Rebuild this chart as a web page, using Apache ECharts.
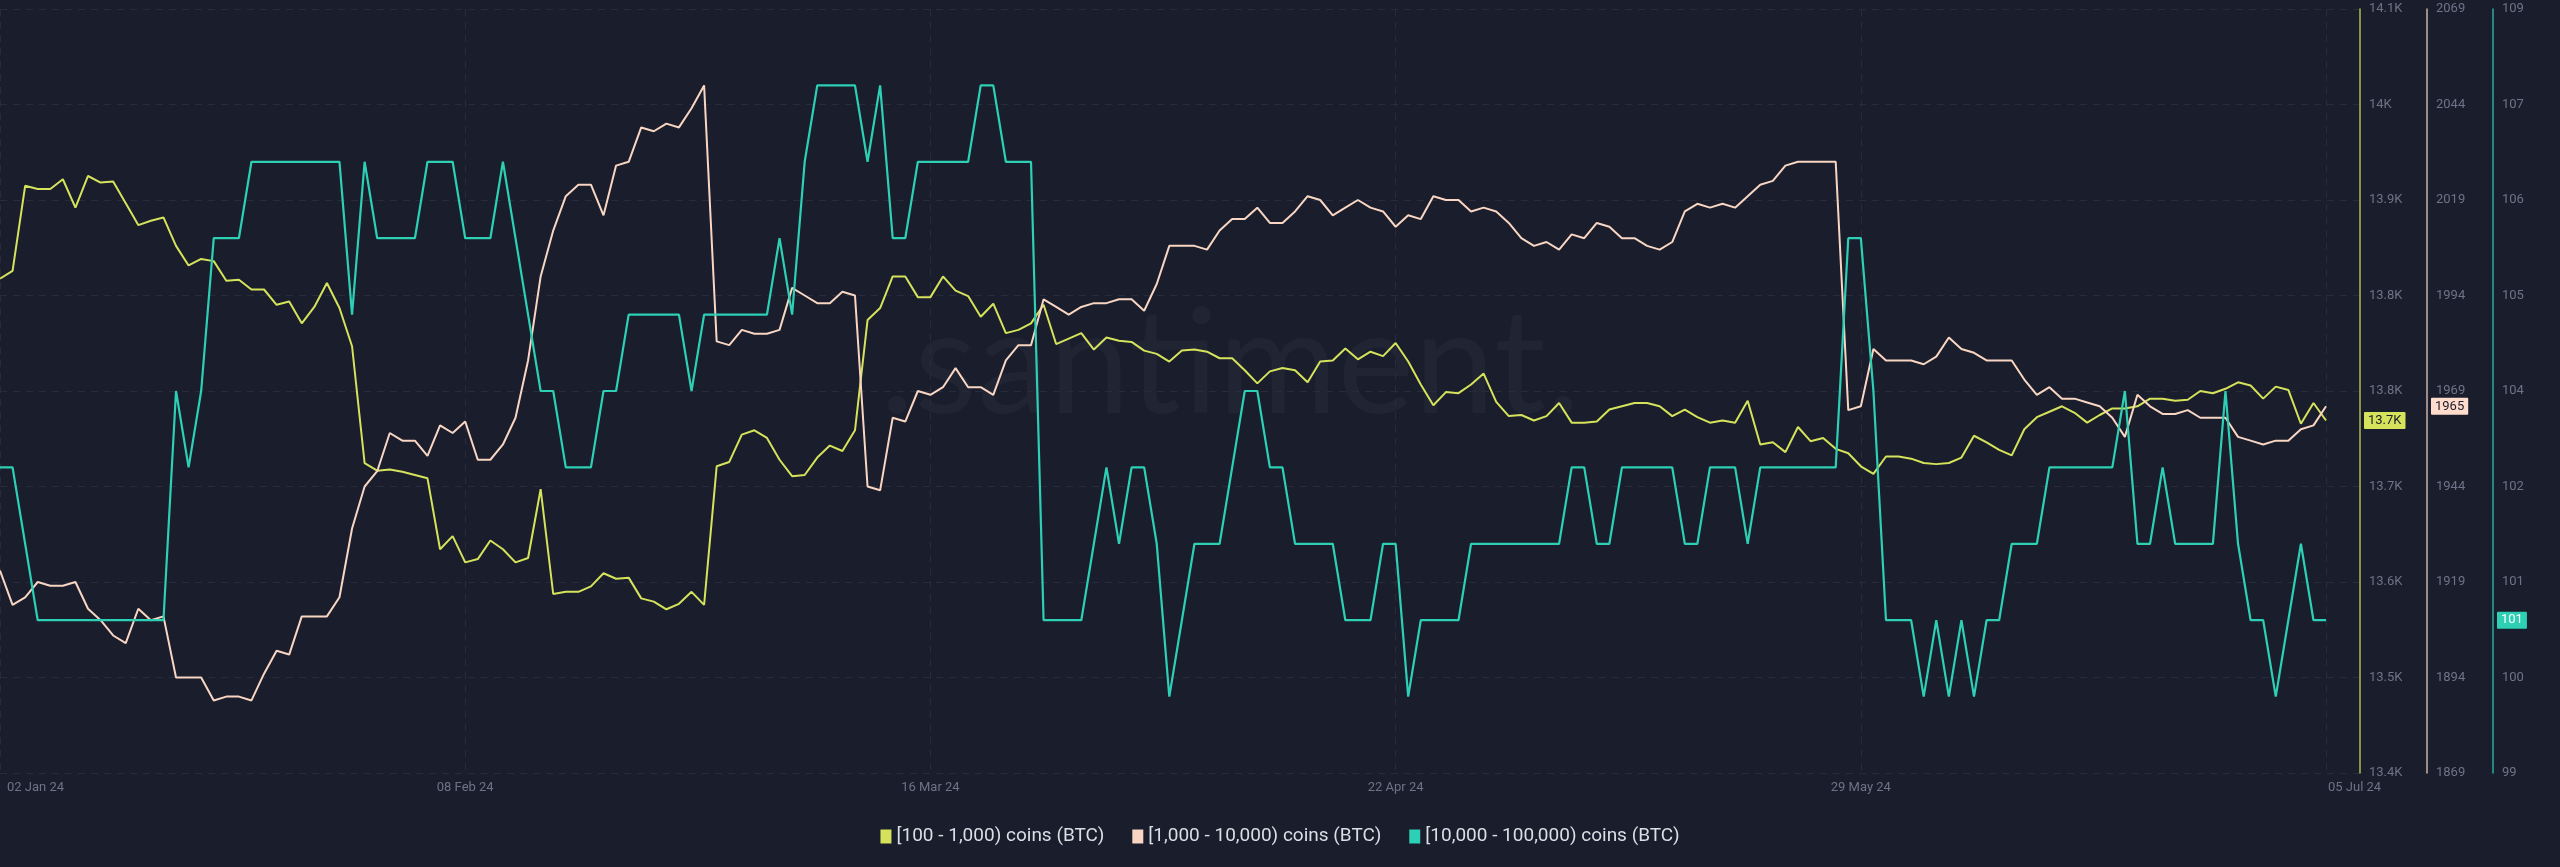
<!DOCTYPE html>
<html>
<head>
<meta charset="utf-8">
<script src="https://cdn.jsdelivr.net/npm/echarts@6/dist/echarts.min.js"></script>
<style>
  html, body { margin: 0; padding: 0; background: #1a1d2b; }
  #chart { width: 2560px; height: 867px; }
</style>
</head>
<body>
<div id="chart"></div>
<script>
// ---- data (daily, 02 Jan 24 .. 05 Jul 24) ----
const startDate = Date.UTC(2024, 0, 2);
const seriesNames = ['[100 - 1,000) coins (BTC)', '[1,000 - 10,000) coins (BTC)', '[10,000 - 100,000) coins (BTC)'];

const yellow = [
  13853,13860,13938,13935,13935,13944,13918,13947,13941,13942,
  13922,13902,13906,13909,13883,13865,13871,13869,13851,13852,
  13843,13843,13829,13832,13812,13827,13849,13826,13791,13684,
  13677,13678,13676,13673,13670,13605,13617,13593,13596,13613,
  13605,13593,13597,13660,13564,13566,13566,13571,13583,13578,
  13579,13560,13557,13550,13555,13566,13554,13681,13685,13710,
  13714,13707,13687,13672,13673,13689,13700,13695,13714,13815,
  13826,13855,13855,13836,13836,13855,13842,13837,13818,13830,
  13803,13806,13812,13829,13793,13798,13803,13788,13799,13796,
  13795,13787,13784,13777,13787,13788,13786,13780,13780,13769,
  13757,13768,13771,13769,13758,13777,13778,13789,13779,13786,
  13782,13794,13777,13756,13737,13749,13748,13756,13766,13740,
  13727,13728,13723,13727,13739,13721,13721,13722,13733,13736,
  13739,13739,13736,13727,13733,13726,13721,13723,13721,13741,
  13701,13703,13694,13717,13704,13707,13697,13693,13681,13674,
  13690,13690,13688,13684,13683,13684,13689,13709,13703,13696,
  13691,13715,13726,13731,13736,13730,13721,13728,13734,13734,
  13736,13743,13743,13741,13742,13750,13748,13752,13758,13755,
  13743,13754,13751,13720,13739,13723
];

const peach = [
  1922,1913,1915,1919,1918,1918,1919,1912,1909,1905,
  1903,1912,1909,1910,1894,1894,1894,1888,1889,1889,
  1888,1895,1901,1900,1910,1910,1910,1915,1933,1944,
  1948,1958,1956,1956,1952,1960,1958,1961,1951,1951,
  1955,1962,1977,1999,2011,2020,2023,2023,2015,2028,
  2029,2038,2037,2039,2038,2043,2049,1982,1981,1985,
  1984,1984,1985,1996,1994,1992,1992,1995,1994,1944,
  1943,1962,1961,1969,1968,1970,1975,1970,1970,1968,
  1977,1981,1981,1993,1991,1989,1991,1992,1992,1993,
  1993,1990,1997,2007,2007,2007,2006,2011,2014,2014,
  2017,2013,2013,2016,2020,2019,2015,2017,2019,2017,
  2016,2012,2015,2014,2020,2019,2019,2016,2017,2016,
  2013,2009,2007,2008,2006,2010,2009,2013,2012,2009,
  2009,2007,2006,2008,2016,2018,2017,2018,2017,2020,
  2023,2024,2028,2029,2029,2029,2029,1964,1965,1980,
  1977,1977,1977,1976,1978,1983,1980,1979,1977,1977,
  1977,1972,1968,1970,1967,1967,1966,1965,1962,1957,
  1968,1965,1963,1963,1964,1962,1962,1962,1957,1956,
  1955,1956,1956,1959,1960,1965
];

const teal = [
  103,103,102,101,101,101,101,101,101,101,
  101,101,101,101,104,103,104,106,106,106,
  107,107,107,107,107,107,107,107,105,107,
  106,106,106,106,107,107,107,106,106,106,
  107,106,105,104,104,103,103,103,104,104,
  105,105,105,105,105,104,105,105,105,105,
  105,105,106,105,107,108,108,108,108,107,
  108,106,106,107,107,107,107,107,108,108,
  107,107,107,101,101,101,101,102,103,102,
  103,103,102,100,101,102,102,102,103,104,
  104,103,103,102,102,102,102,101,101,101,
  102,102,100,101,101,101,101,102,102,102,
  102,102,102,102,102,103,103,102,102,103,
  103,103,103,103,102,102,103,103,103,102,
  103,103,103,103,103,103,103,106,106,104,
  101,101,101,100,101,100,101,100,101,101,
  102,102,102,103,103,103,103,103,103,104,
  102,102,103,102,102,102,102,104,102,101,
  101,100,101,102,101,101
];

// x tick positions (day index) and axis ranges
const xTickIdx = [0, 37, 74, 111, 148, 185];
const yellowRange = [13400, 14100];
const peachRange = [1869, 2069];
const tealRange = [99, 109];

// ---- derived ----
const MONTHS = ['Jan','Feb','Mar','Apr','May','Jun','Jul','Aug','Sep','Oct','Nov','Dec'];
const categories = yellow.map((_, i) => {
  const d = new Date(startDate + i * 86400000);
  return String(d.getUTCDate()).padStart(2, '0') + ' ' + MONTHS[d.getUTCMonth()] + ' ' + String(d.getUTCFullYear()).slice(2);
});
function ticks(r) { const out = []; for (let k = 0; k <= 8; k++) out.push(r[0] + k * (r[1] - r[0]) / 8); return out; }
const fmtK = v => { const t = Math.round(v / 100) / 10; return (Number.isInteger(t) ? String(t) : t.toFixed(1)) + 'K'; };

const COL_Y = '#d4e35b', COL_P = '#f8d6c3', COL_T = '#2dd0b4';
const LABEL_COL = '#6e7387';
const FONT = 'Roboto, "Noto Sans", sans-serif';

const chart = echarts.init(document.getElementById('chart'), null, { renderer: 'canvas' });

function yAxisDef(range, color, offset, fmt, lastVal, pointerBg, pointerText, showSplit) {
  return {
    type: 'value', position: 'right', offset: offset,
    min: range[0], max: range[1],
    axisLine: { show: true, onZero: false, lineStyle: { color: color, width: 1.5, opacity: 0.8 } },
    axisTick: { show: false, customValues: ticks(range) },
    axisLabel: { customValues: ticks(range), formatter: fmt, color: LABEL_COL, fontSize: 13, fontFamily: FONT, margin: 9 },
    splitLine: { show: showSplit, lineStyle: { color: '#272b3c', type: [7, 6], width: 1 } },
    axisPointer: {
      show: true, type: 'line', value: lastVal, status: 'show', snap: false, triggerTooltip: false,
      lineStyle: { color: 'rgba(0,0,0,0)', width: 0 },
      label: {
        show: true, formatter: p => fmt(p.value), backgroundColor: pointerBg, color: pointerText,
        fontSize: 13, fontFamily: FONT, padding: [2, 4, 2, 4], margin: 4, borderRadius: 1
      }
    }
  };
}

const option = {
  backgroundColor: '#1a1d2b',
  animation: false,
  grid: { left: 0, right: 200, top: 9, bottom: 94, containLabel: false },
  graphic: [{
    type: 'text', left: 880, top: 294, z: 0, silent: true,
    style: { text: '.santiment.', fontSize: 145, fontFamily: 'Lato, "Open Sans", sans-serif', fontWeight: 400, fill: 'rgba(120,130,170,0.065)' }
  }],
  legend: {
    top: 822, left: 'center', itemWidth: 11, itemHeight: 14, itemGap: 28, icon: 'rect',
    textStyle: { color: '#dcdee6', fontSize: 19, fontFamily: FONT },
    data: seriesNames
  },
  xAxis: {
    type: 'value', min: 0, max: 187.7,
    axisLine: { show: false },
    axisTick: { show: false, customValues: xTickIdx },
    splitLine: { show: true, lineStyle: { color: '#272b3c', type: [7, 6], width: 1 } },
    axisLabel: {
      customValues: xTickIdx, color: LABEL_COL, fontSize: 13, fontFamily: FONT, margin: 8,
      formatter: v => {
        const i = Math.round(v); const s = categories[i];
        if (i === 0) return '{first|' + s + '}';
        if (i === categories.length - 1) return '{last|' + s + '}';
        return s;
      },
      rich: {
        first: { padding: [0, 0, 0, 71], color: LABEL_COL, fontSize: 13, fontFamily: FONT },
        last: { padding: [0, 0, 0, 57], color: LABEL_COL, fontSize: 13, fontFamily: FONT }
      }
    }
  },
  yAxis: [
    yAxisDef(yellowRange, COL_Y, 0, fmtK, yellow[yellow.length - 1], COL_Y, '#1a1d2b', true),
    yAxisDef(peachRange, COL_P, 67, v => String(Math.round(v)), peach[peach.length - 1], '#ffdccb', '#1a1d2b', false),
    yAxisDef(tealRange, COL_T, 133, v => String(Math.floor(v + 1e-9)), teal[teal.length - 1], COL_T, '#ffffff', false)
  ],
  series: [
    { name: seriesNames[0], type: 'line', yAxisIndex: 0, data: yellow.map((v, i) => [i, v]), showSymbol: false, symbol: 'none',
      lineStyle: { color: COL_Y, width: 2 }, itemStyle: { color: COL_Y }, z: 3 },
    { name: seriesNames[1], type: 'line', yAxisIndex: 1, data: peach.map((v, i) => [i, v]), showSymbol: false, symbol: 'none',
      lineStyle: { color: COL_P, width: 2 }, itemStyle: { color: COL_P }, z: 3 },
    { name: seriesNames[2], type: 'line', yAxisIndex: 2, data: teal.map((v, i) => [i, v]), showSymbol: false, symbol: 'none',
      lineStyle: { color: COL_T, width: 2.2 }, itemStyle: { color: COL_T }, z: 3 }
  ]
};
chart.setOption(option);
</script>
</body>
</html>
